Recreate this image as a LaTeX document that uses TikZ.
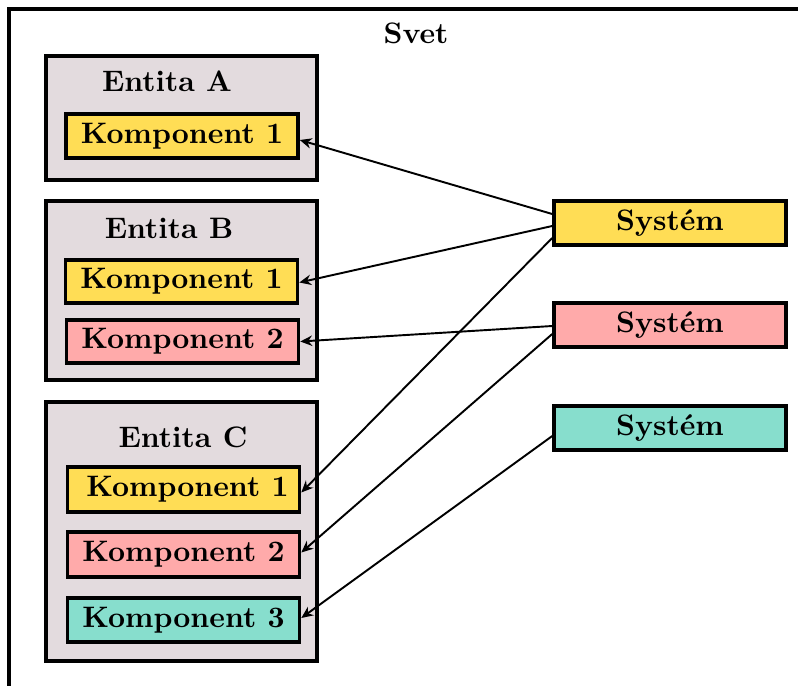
\documentclass[tikz,border=0pt]{standalone}
\usetikzlibrary{arrows.meta}
\newdimen\px \px=0.3375pt
\definecolor{cyellow}{HTML}{FFDD55}
\definecolor{cpink}{HTML}{FFAAAA}
\definecolor{cteal}{HTML}{87DECD}
\definecolor{cgray}{HTML}{E3DBDE}
\begin{document}
\begin{tikzpicture}[x=\px,y=-\px,
  box/.style={draw, line width=1.2pt, inner sep=0pt, font=\bfseries},
  comp/.style={box, minimum width=232\px, minimum height=44\px},
  ent/.style={box, fill=cgray, minimum width=271\px},
  lbl/.style={font=\bfseries, inner sep=0pt},
  conn/.style={line width=0.65pt, -{Stealth[length=4pt,width=3.5pt]}}]
\useasboundingbox (0,0) rectangle (798,685);
\draw[line width=1.2pt] (830,9) -- (9,9) -- (9,700);
\node[lbl] (svet) at (416,33) {Svet};
% entities
\node[ent, minimum height=124\px] (ea) at (181.5,118) {};
\node[ent, minimum height=179\px] (eb) at (181.5,290.5) {};
\node[ent, minimum height=259\px] (ec) at (181.5,531.5) {};
\node[lbl] (ta) at (167,81) {Entita A};
\node[lbl] (tb) at (169,228) {Entita B};
\node[lbl] (tc) at (183,437) {Entita C};
% components
\node[comp, fill=cyellow] (a1) at (182,136) {Komponent 1};
\node[comp, fill=cyellow, minimum height=43\px] (b1) at (181.5,281.5) {Komponent 1};
\node[comp, fill=cpink, minimum height=43\px] (b2) at (182.5,341.5) {Komponent 2};
\node[comp, fill=cyellow, minimum height=45\px] (c1) at (183.5,489.5) {\hspace{8\px}Komponent 1};
\node[comp, fill=cpink, minimum height=45\px] (c2) at (183.5,554.5) {Komponent 2};
\node[comp, fill=cteal] (c3) at (183.5,620) {Komponent 3};
% systems
\node[comp, fill=cyellow] (s1) at (670,223) {Systém};
\node[comp, fill=cpink] (s2) at (670,325) {Systém};
\node[comp, fill=cteal] (s3) at (670,428) {Systém};
% connectors
\draw[conn] ([yshift=9\px]s1.west) -- ([yshift=-4\px]a1.east);
\draw[conn] ([yshift=-3\px]s1.west) -- ([yshift=-1\px]b1.east);
\draw[conn] ([yshift=-15\px]s1.west) -- ([yshift=-3\px]c1.east);
\draw[conn] ([yshift=-1\px]s2.west) -- (b2.east);
\draw[conn] ([yshift=-9\px]s2.west) -- ([yshift=2\px]c2.east);
\draw[conn] ([yshift=-8\px]s3.west) -- ([yshift=2\px]c3.east);
\end{tikzpicture}
\end{document}
